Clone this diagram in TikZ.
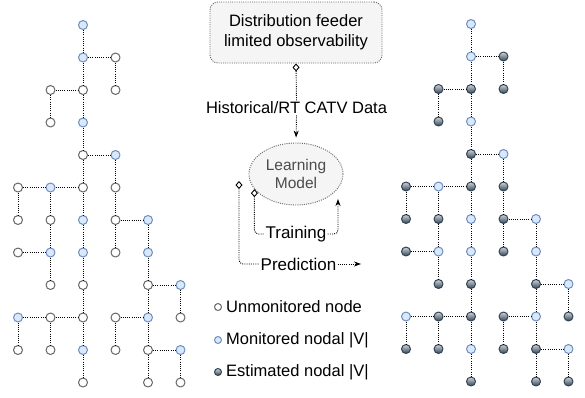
\documentclass[tikz,border=0pt]{standalone}
\usepackage{fontspec}
\setmainfont{Liberation Sans}
\usetikzlibrary{arrows.meta,shapes.geometric}
\definecolor{dayefc}{rgb}{0.855,0.91,0.988}
\definecolor{wcyebf}{rgb}{0.424,0.557,0.749}
\definecolor{wwwwww}{rgb}{0.4,0.4,0.4}
\definecolor{fvfvfv}{rgb}{0.961,0.961,0.961}
\definecolor{wuxwyx}{rgb}{0.392,0.463,0.529}
\definecolor{trutvu}{rgb}{0.192,0.263,0.329}

\begin{document}
\begin{tikzpicture}[line cap=round,line join=round,x=1pt,y=-1pt,
	bus/.style={circle,inner sep=0pt,minimum size=9pt,line width=1pt},
	L-gry/.style={bus,draw=wwwwww,fill=white},
	R-gry/.style={bus,draw=trutvu,top color=wuxwyx!30!white,middle color=wuxwyx,bottom color=trutvu},
	L-mon/.style={bus,draw=wcyebf,fill=dayefc},
	R-mon/.style={L-mon},
	link/.style={line width=0.9pt,line cap=butt,dash pattern=on 1pt off 1.2pt},
	lbl/.style={font=\fontsize{16.5}{20}\selectfont,inner sep=1pt},
	panel/.style={link,draw=wwwwww,fill=fvfvfv,align=center},
	flowstart/.style={link,rounded corners=4pt,{Diamond[open,length=8pt,width=7pt]}-},
	flowend/.style={link,rounded corners=4pt,-{Stealth[length=7pt,width=5pt]}}]
	\useasboundingbox (0,0) rectangle (585,397);
	% the two feeders: left as measured, right as estimated
	\foreach \t/\xo/\yo in {L/18/25,R/406/24}{
		\foreach \i/\j/\k in {2/0/mon,2/1/mon,3/1/gry,1/2/gry,2/2/gry,3/2/gry,1/3/gry,2/3/mon,
			2/4/gry,3/4/mon,0/5/gry,1/5/mon,2/5/gry,3/5/gry,0/6/gry,1/6/gry,2/6/mon,3/6/gry,4/6/mon,
			0/7/gry,1/7/mon,2/7/mon,3/7/gry,4/7/mon,1/8/gry,2/8/gry,4/8/gry,5/8/mon,
			0/9/mon,1/9/gry,2/9/gry,3/9/gry,4/9/mon,5/9/gry,0/10/gry,1/10/gry,2/10/mon,3/10/gry,
			4/10/gry,5/10/mon,2/11/gry,4/11/gry,5/11/gry}
		\node[\t-\k] (\t-\i-\j) at (\xo+32.5*\i,\yo+32.5*\j) {};
		\foreach \a/\b/\cc/\d in {2/0/2/1,2/1/2/2,2/2/2/3,2/3/2/4,2/4/2/5,2/5/2/6,2/6/2/7,2/7/2/8,
			2/8/2/9,2/9/2/10,2/10/2/11,3/1/3/2,1/2/1/3,3/4/3/5,3/5/3/6,3/6/3/7,0/5/0/6,1/5/1/6,
			1/6/1/7,1/7/1/8,4/6/4/7,4/7/4/8,4/8/4/9,4/9/4/10,4/10/4/11,5/8/5/9,0/9/0/10,1/9/1/10,
			3/9/3/10,5/10/5/11,2/1/3/1,1/2/2/2,2/4/3/4,0/5/1/5,1/5/2/5,3/6/4/6,0/7/1/7,4/8/5/8,
			0/9/1/9,1/9/2/9,3/9/4/9,4/10/5/10}
		\draw[link] (\t-\a-\b) -- (\t-\cc-\d);
	}
	% learning block
	\node[panel,rounded corners=8pt,minimum width=172pt,minimum height=61pt,lbl] (feeder) at (296,32.5) {Distribution feeder\\limited observability};
	\node[panel,ellipse,minimum width=94pt,minimum height=62pt,inner sep=0pt,text=black!70,font=\fontsize{15.5}{18}\selectfont] (model) at (296,174) {Learning\\Model};
	\node[lbl,fill=white] (histlbl) at (296.5,108) {Historical/RT CATV Data};
	\draw[flowstart] (feeder.south) -- (histlbl.north);
	\draw[flowend,shorten >=5pt] (histlbl.south) -- (model.north);
	\node[lbl,font=\fontsize{17}{20}\selectfont] (trainlbl) at (296,234) {Training};
	\coordinate (trainend) at (338,199);
	\draw[flowstart] (model.200) |- (trainlbl.west);
	\draw[flowend] (trainlbl.east) -| (trainend);
	\node[lbl,font=\fontsize{17}{20}\selectfont] (predlbl) at (298.5,264) {Prediction};
	\coordinate (predsrc) at (239,181);
	\coordinate (predend) at (361,264);
	\draw[flowstart] (predsrc) |- (predlbl.west);
	\draw[flowend] (predlbl.east) -- (predend);
	% legend
	\node[L-gry,minimum size=7pt] (keyu) at (218,307) {};
	\node[L-mon,minimum size=7pt] (keym) at (218,340) {};
	\node[R-gry,minimum size=7pt] (keye) at (218,372) {};
	\node[lbl,anchor=west] (keyutxt) at (225,307) {Unmonitored node};
	\node[lbl,anchor=west] (keymtxt) at (225,340) {Monitored nodal |V|};
	\node[lbl,anchor=west] (keyetxt) at (225,372) {Estimated nodal |V|};
\end{tikzpicture}
\end{document}
